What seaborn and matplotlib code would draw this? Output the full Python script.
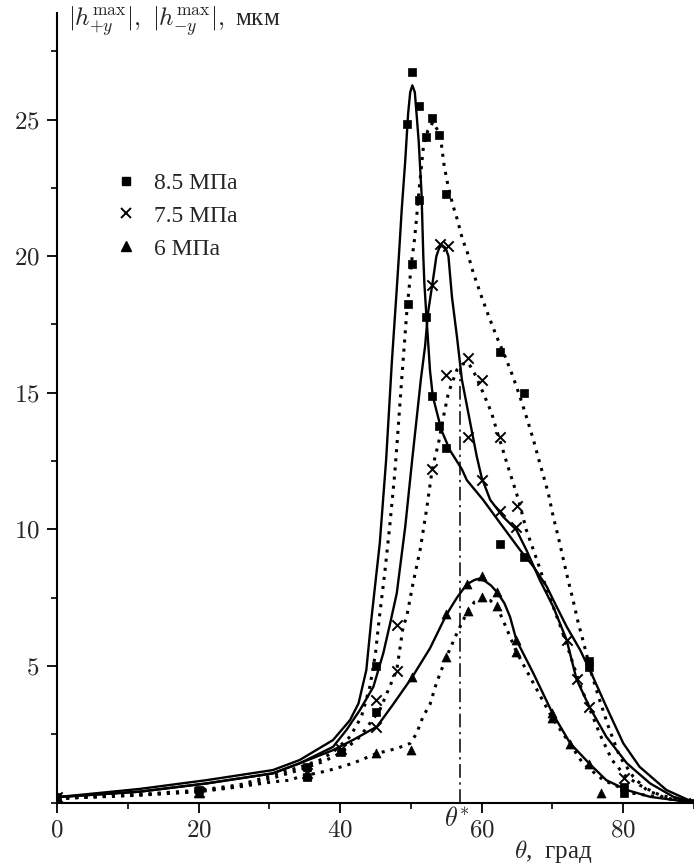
import matplotlib
matplotlib.use("Agg")
import matplotlib.pyplot as plt
import seaborn as sns
from matplotlib.ticker import MultipleLocator, FuncFormatter
from matplotlib.lines import Line2D

# ---------------- data ----------------
# solid curves
s85_t = [0, 11.7, 21.1, 30.5, 34.3, 39.0, 41.4, 42.6, 43.7, 44.4, 45.6, 46.5, 47.3, 48.0, 48.3, 48.7,
         49.2, 49.6, 49.9, 50.2, 50.55, 50.8, 51.1, 51.5, 51.75, 51.9, 52.2, 52.7, 53.1, 54.3, 55.5,
         57.2, 57.9, 60.2, 62.6, 65.4, 67.3, 69.2, 70.1, 72.0, 73.9, 75.7, 77.6, 80.0, 82.3, 86.1, 90]
s85_h = [0.2, 0.5, 0.82, 1.19, 1.56, 2.29, 3.02, 3.63, 4.85, 6.68, 9.49, 12.55, 16.1, 18.8, 20.0, 21.7,
         23.5, 25.2, 26.0, 26.25, 26.0, 25.2, 24.2, 22.3, 20.0, 19.0, 17.76, 15.8, 14.86, 13.64, 12.9,
         12.2, 11.8, 11.08, 10.23, 9.25, 8.64, 7.9, 7.42, 6.44, 5.59, 4.61, 3.51, 2.17, 1.31, 0.46, 0.0]

s75_t = [0, 11.7, 21.1, 30.5, 34.3, 39.0, 40.9, 42.8, 44.7, 46.1, 47.1, 48.0, 49.2, 50.2, 50.9, 51.4,
         52.0, 52.4, 53.1, 53.6, 54.0, 54.4, 54.9, 55.3, 55.8, 56.5, 57.2, 58.1, 59.3, 60.0, 61.2,
         63.0, 64.9, 66.3, 68.2, 70.1, 72.0, 73.4, 75.2, 77.6, 80.5, 83.8, 87.1, 90]
s75_h = [0.2, 0.4, 0.7, 1.07, 1.44, 2.04, 2.66, 3.39, 4.24, 5.47, 6.6, 7.66, 10.1, 12.6, 14.27, 15.48,
         16.7, 17.9, 19.1, 20.0, 20.3, 20.4, 20.3, 20.0, 18.5, 17.06, 15.48, 14.27, 12.67, 11.89, 11.08,
         10.47, 9.98, 9.25, 8.15, 7.17, 5.95, 4.51, 3.51, 2.41, 1.44, 0.7, 0.21, 0.0]

s6_t = [0, 11.7, 21.1, 30.5, 34.3, 39.0, 41.8, 45.2, 47.5, 50.2, 52.7, 55.0, 56.5, 57.9, 59.0, 59.7,
        60.5, 61.3, 62.2, 63.2, 64.0, 64.9, 67.3, 70.0, 72.5, 75.2, 77.6, 80.5, 83.8, 90]
s6_h = [0.2, 0.4, 0.7, 1.07, 1.44, 1.92, 2.29, 2.78, 3.6, 4.6, 5.65, 6.87, 7.5, 7.99, 8.15, 8.2,
        8.1, 7.95, 7.69, 7.3, 6.8, 5.95, 4.73, 3.27, 2.17, 1.43, 0.82, 0.46, 0.21, 0.0]

# dotted curves
d85_t = [0, 11.7, 20, 25.8, 30.5, 34.3, 37.1, 39.0, 41.4, 43.0, 44.2, 45.0, 45.5, 46.3, 47.0, 47.7,
         48.0, 48.7, 49.4, 50.1, 50.5, 50.8, 51.2, 51.5, 51.8, 52.4, 53.1, 53.8, 54.3, 54.7, 55.3,
         56.0, 56.6, 57.3, 57.9, 58.8, 60.0, 60.9, 62.1, 63.3, 64.4, 65.4, 66.3, 67.3, 68.2, 69.4,
         70.1, 70.8, 71.5, 72.2, 72.9, 73.6, 74.4, 75.5, 76.5, 77.9, 79.5, 81.4, 83.3, 86.1, 90]
d85_h = [0.15, 0.3, 0.45, 0.65, 1.0, 1.3, 1.55, 1.85, 2.41, 3.14, 4.24, 5.47, 6.68, 8.4, 10.1, 12.0,
         13.0, 15.5, 17.9, 19.8, 20.6, 21.4, 22.56, 23.3, 24.1, 24.6, 24.9, 24.6, 24.1, 23.3, 22.5,
         21.8, 21.3, 20.6, 20.2, 19.4, 18.5, 17.86, 17.06, 16.33, 15.6, 14.86, 14.13, 13.28, 12.43, 11.33,
         10.47, 9.74, 8.94, 8.15, 7.42, 6.62, 5.84, 4.73, 3.88, 2.78, 1.68, 0.95, 0.46, 0.15, 0.0]

d75_t = [0, 11.7, 20, 25.8, 30.5, 34.3, 37.6, 40.0, 42.8, 45.6, 47.0, 48.0, 48.9, 49.4, 50.3, 51.3,
         52.2, 52.9, 53.2, 53.9, 54.6, 55.3, 56.5, 57.3, 58.1, 59.0, 60.2, 61.4, 62.1, 63.0, 63.7,
         64.2, 65.2, 66.3, 67.8, 68.9, 70.1, 71.3, 72.5, 73.9, 75.3, 76.7, 78.4, 80.2, 82.3, 85.2, 90]
d75_h = [0.15, 0.28, 0.4, 0.58, 0.9, 1.2, 1.5, 1.8, 2.41, 3.39, 4.24, 4.85, 6.44, 6.8, 8.03, 9.25,
         10.71, 12.0, 12.42, 13.16, 14.13, 15.0, 15.84, 16.05, 16.1, 15.7, 15.0, 14.26, 13.64, 12.9, 12.3,
         11.9, 11.08, 9.98, 8.88, 8.03, 7.17, 6.32, 5.4, 4.3, 3.4, 2.5, 1.56, 1.0, 0.64, 0.27, 0.0]

d6_t = [0, 11.7, 19.7, 25.8, 30.5, 32.9, 34.3, 37.6, 39.0, 41.8, 45.2, 48.0, 49.9, 50.8, 51.7, 52.7,
        53.6, 55.0, 56.5, 58.0, 59.0, 60.2, 61.2, 62.2, 63.3, 64.9, 67.3, 70.0, 72.5, 74.3, 77.2, 81.4, 90]
d6_h = [0.15, 0.27, 0.4, 0.58, 0.76, 0.82, 0.95, 1.13, 1.22, 1.44, 1.8, 1.98, 2.17, 2.53, 3.14, 3.6,
        4.37, 5.32, 6.2, 7.0, 7.35, 7.45, 7.4, 7.15, 6.5, 5.52, 4.37, 3.08, 2.14, 1.43, 0.82, 0.34, 0.0]

# measured points
m85_t = [0, 20, 35.3, 35.3, 40.1, 45.1, 45.1, 49.6, 50.1, 49.5, 50.1, 51.1, 51.1, 52.1, 52.1, 53.0,
         54.0, 55.0, 53.0, 54.0, 55.0, 62.6, 66.0, 62.6, 66.0, 75.2, 75.2, 80.1, 80.1, 90]
m85_h = [0.2, 0.45, 0.95, 1.31, 1.86, 3.3, 5.0, 18.26, 19.7, 24.85, 26.75, 25.5, 22.07, 24.37, 17.76, 25.04,
         24.44, 22.26, 14.89, 13.77, 12.97, 16.48, 14.99, 9.47, 9.0, 5.2, 4.95, 0.34, 0.58, 0.0]

m75_t = [0, 20, 35.3, 40.1, 45.1, 45.1, 48.1, 48.1, 53.0, 54.1, 55.2, 53.0, 55.0, 58.1, 58.1, 60.1,
         60.1, 62.6, 62.6, 65.0, 64.9, 72.0, 73.4, 75.2, 80.1, 90]
m75_h = [0.2, 0.4, 1.1, 1.95, 3.75, 2.78, 6.5, 4.8, 18.96, 20.46, 20.38, 12.2, 15.66, 16.27, 13.38, 15.45,
         11.79, 13.38, 10.69, 10.86, 10.07, 5.95, 4.51, 3.51, 0.89, 0.0]

m6_t = [0, 20, 35.3, 45.1, 50.0, 50.1, 55.0, 55.0, 58.0, 57.9, 60.1, 60.0, 62.2, 62.2, 64.9, 64.9,
        70.0, 70.0, 72.5, 75.2, 76.9, 90]
m6_h = [0.2, 0.35, 1.0, 1.8, 1.92, 4.59, 5.32, 6.89, 7.0, 7.99, 8.3, 7.54, 7.69, 7.2, 5.95, 5.52,
        3.27, 3.08, 2.14, 1.43, 0.34, 0.0]

labels = ["8.5 МПа", "7.5 МПа", "6 МПа"]
theta_star = 57.0
theta_star_top = 15.9
x_ticks = [0, 20, 40, 60, 80]
y_ticks = [5, 10, 15, 20, 25]

# ---------------- style ----------------
sns.set_style("ticks")
plt.rcParams["font.family"] = ["Liberation Serif", "DejaVu Serif"]
plt.rcParams["mathtext.fontset"] = "cm"

fig = plt.figure(figsize=(6.94, 8.63), dpi=100)
ax = fig.add_axes([0.0821, 0.070, 0.918, 0.915])

solid_kw = dict(color="black", linewidth=1.7, solid_capstyle="round")
dot_kw = dict(color="black", linewidth=2.2, linestyle=(0, (1, 2.0)), dash_capstyle="butt")

for t, h in [(s85_t, s85_h), (s75_t, s75_h), (s6_t, s6_h)]:
    sns.lineplot(x=t, y=h, ax=ax, sort=False, estimator=None, **solid_kw)
for t, h in [(d85_t, d85_h), (d75_t, d75_h), (d6_t, d6_h)]:
    sns.lineplot(x=t, y=h, ax=ax, sort=False, estimator=None, **dot_kw)

ax.plot([theta_star, theta_star], [0, theta_star_top], color="black", linewidth=1.1,
        linestyle=(0, (9, 3, 1.5, 3)))

sns.scatterplot(x=m85_t, y=m85_h, ax=ax, marker="s", s=36, color="black", edgecolor="black",
                linewidth=0.5, zorder=5)
sns.scatterplot(x=m75_t, y=m75_h, ax=ax, marker="x", s=55, color="black", linewidth=1.4, zorder=5)
sns.scatterplot(x=m6_t, y=m6_h, ax=ax, marker="^", s=42, color="black", edgecolor="black",
                linewidth=0.5, zorder=5)

ax.set_xlim(0, 90)
ax.set_ylim(0, 28.9)
ax.set_xticks(x_ticks)
ax.set_yticks(y_ticks)
ax.xaxis.set_minor_locator(MultipleLocator(10))
ax.yaxis.set_minor_locator(MultipleLocator(2.5))
fmt = FuncFormatter(lambda v, p: f"${v:g}$")
ax.xaxis.set_major_formatter(fmt)
ax.yaxis.set_major_formatter(fmt)
ax.tick_params(axis="both", which="major", direction="out", length=7.5, width=1.3,
               labelsize=18, color="black")
ax.tick_params(axis="both", which="minor", direction="out", length=4.5, width=1.2, color="black")
ax.tick_params(axis="x", which="major", pad=5)
ax.tick_params(axis="y", which="major", pad=5)
for side in ["top", "right"]:
    ax.spines[side].set_visible(False)
for side in ["left", "bottom"]:
    ax.spines[side].set_linewidth(1.5)
    ax.spines[side].set_color("black")
ax.set_xlabel("")
ax.set_ylabel("")

# legend
handles = [
    Line2D([], [], marker="s", linestyle="none", color="black", markersize=6),
    Line2D([], [], marker="x", linestyle="none", color="black", markersize=6.5, markeredgewidth=1.4),
    Line2D([], [], marker="^", linestyle="none", color="black", markersize=7),
]
fig.legend(handles, labels, loc="upper left", bbox_to_anchor=(0.154, 0.814), frameon=False,
           fontsize=17, handlelength=0.6, handletextpad=0.9, labelspacing=0.48, borderpad=0)

# texts
fig.text(68 / 694, 1 - 21 / 863, r"$|h_{+y}^{\mathrm{max}}|,\ |h_{-y}^{\mathrm{max}}|,$ мкм",
         fontsize=18, ha="left", va="center")
fig.text(457 / 694, 1 - 819 / 863, r"$\theta^{*}$", fontsize=19, ha="center", va="center")
fig.text(553 / 694, 1 - 851 / 863, r"$\theta$,  град", fontsize=18, ha="center", va="center")

fig.savefig("out.png", dpi=100)
